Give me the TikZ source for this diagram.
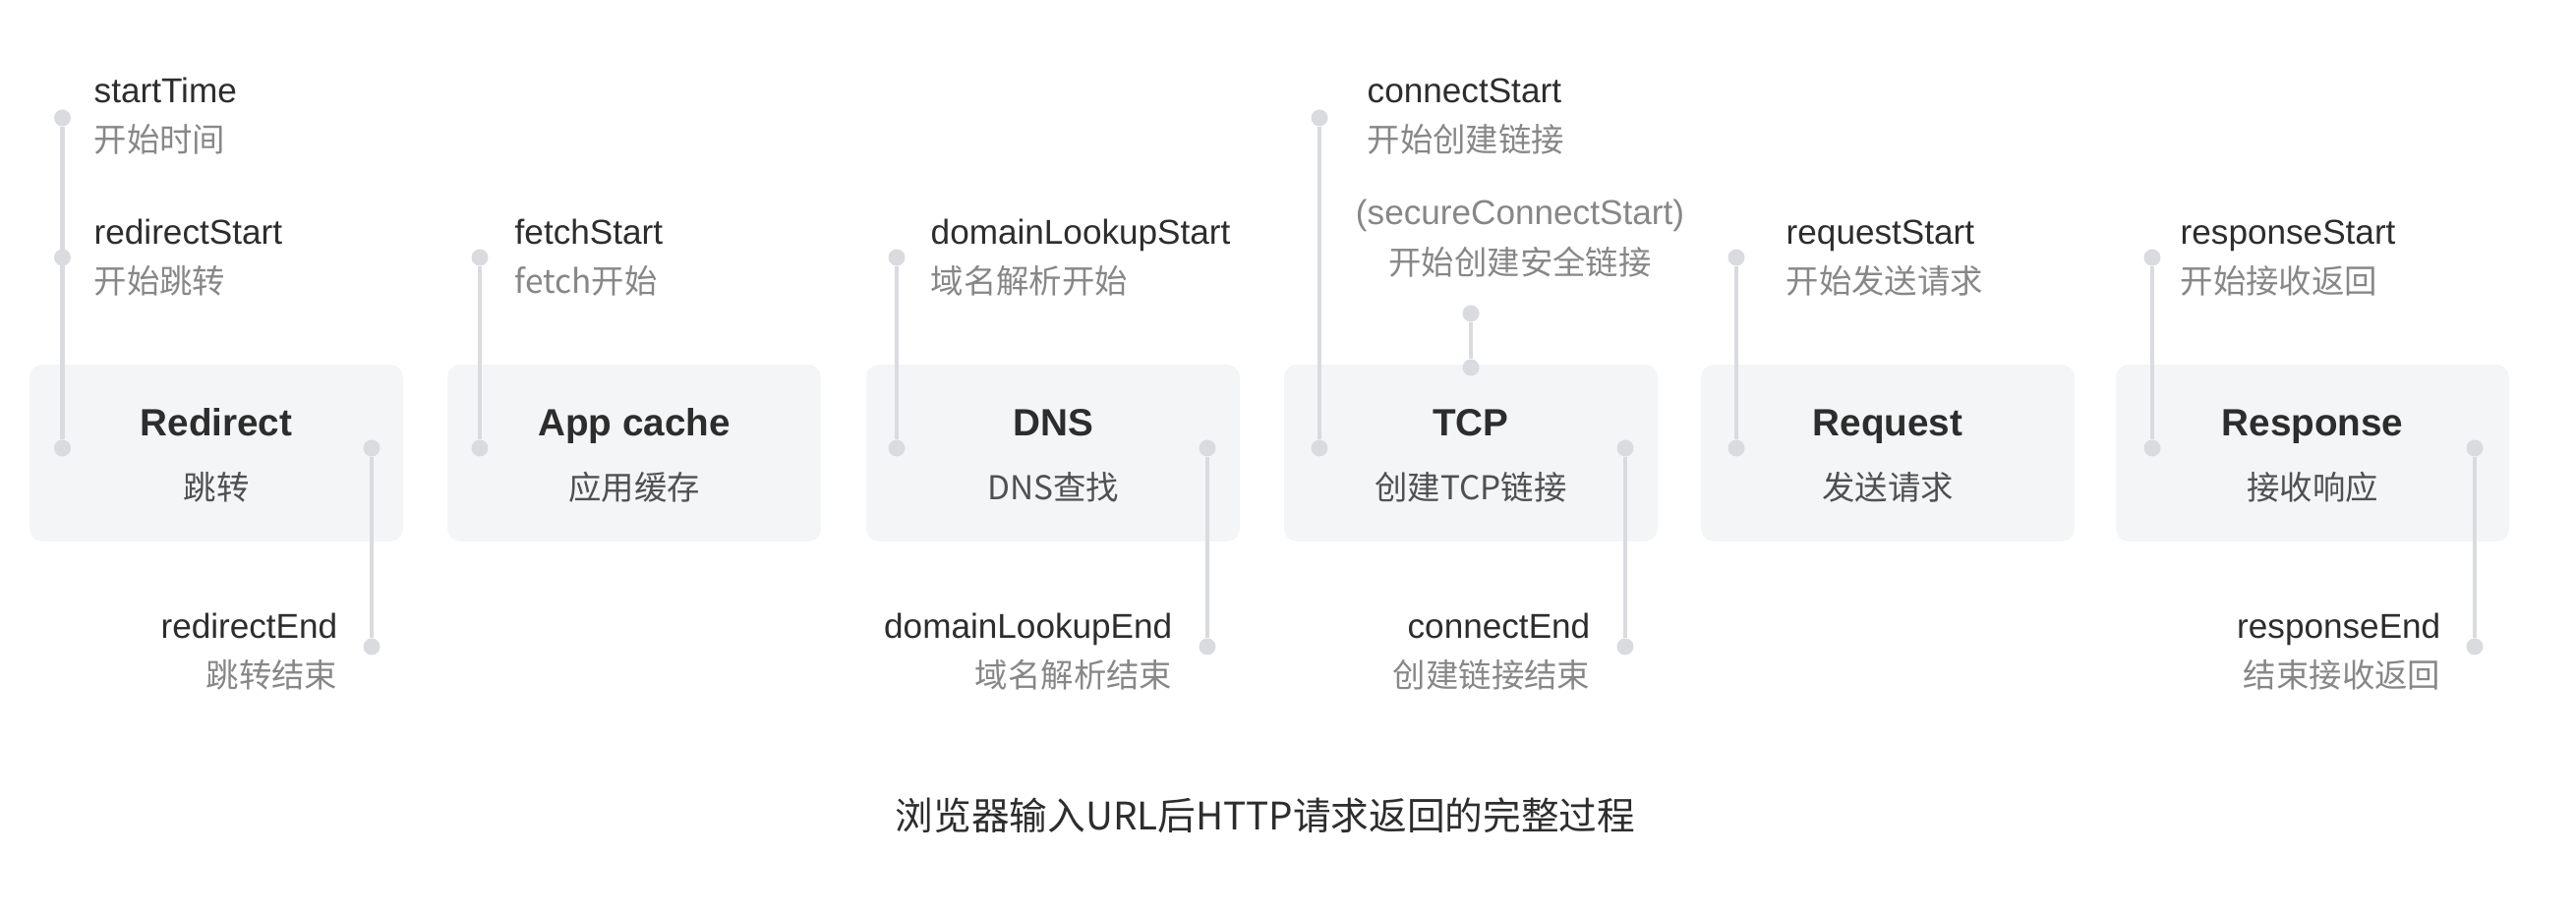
\documentclass[tikz,border=0pt]{standalone}
\usepackage{fontspec}
\setmainfont{Liberation Sans}
\newfontfamily\cjk{Noto Sans CJK SC}
\usetikzlibrary{positioning,calc}

\definecolor{boxgray}{RGB}{244,245,247}
\definecolor{linegray}{RGB}{218,219,222}
\definecolor{labeldark}{RGB}{45,45,45}
\definecolor{labellight}{RGB}{135,135,135}
\definecolor{subdark}{RGB}{80,80,80}

\tikzset{
	stage/.style={rectangle, rounded corners=0.13cm, fill=boxgray, minimum width=3.8cm, minimum height=1.8cm},
	stitle/.style={font=\bfseries\fontsize{11}{13}\selectfont, text=labeldark, inner sep=0pt, text height=0.75em, text depth=0.2em},
	ssub/.style={font=\cjk\fontsize{9.5}{12}\selectfont, text=subdark, inner sep=0pt},
	tick/.style={circle, fill=linegray, inner sep=0pt, minimum size=0.17cm},
	link/.style={draw=linegray, line width=1.2pt},
	evname/.style={font=\fontsize{10}{12}\selectfont, text=labeldark, inner sep=0pt, text height=0.75em, text depth=0.2em},
	evnote/.style={font=\cjk\fontsize{9.5}{12}\selectfont, text=labellight, inner sep=0pt},
}

\begin{document}
\begin{tikzpicture}
		\useasboundingbox (0,0) rectangle (26.2,9.28);
		
		% stages
		\node[stage] (redirect) at (2.20,4.67) {};
		\node[stage] (appcache) at (6.45,4.67) {};
		\node[stage] (dns) at (10.71,4.67) {};
		\node[stage] (tcp) at (14.96,4.67) {};
		\node[stage] (request) at (19.20,4.67) {};
		\node[stage, minimum width=4.0cm] (response) at (23.52,4.67) {};
		
		\node[stitle] at ([yshift=0.27cm]redirect.center) {Redirect};
		\node[ssub] at ([yshift=-0.35cm]redirect.center) {跳转};
		\node[stitle] at ([yshift=0.27cm]appcache.center) {App cache};
		\node[ssub] at ([yshift=-0.35cm]appcache.center) {应用缓存};
		\node[stitle] at ([yshift=0.27cm]dns.center) {DNS};
		\node[ssub] at ([yshift=-0.35cm]dns.center) {DNS查找};
		\node[stitle] at ([yshift=0.27cm]tcp.center) {TCP};
		\node[ssub] at ([yshift=-0.35cm]tcp.center) {创建TCP链接};
		\node[stitle] at ([yshift=0.27cm]request.center) {Request};
		\node[ssub] at ([yshift=-0.35cm]request.center) {发送请求};
		\node[stitle] at ([yshift=0.27cm]response.center) {Response};
		\node[ssub] at ([yshift=-0.35cm]response.center) {接收响应};
		
		% time points
		\node[tick] (startTime) at (0.635,8.08) {};
		\node[tick] (redirectStart) at (0.635,6.66) {};
		\node[tick] (redirectIn) at (0.635,4.72) {};
		\node[tick] (redirectOut) at (3.78,4.72) {};
		\node[tick] (redirectEnd) at (3.78,2.70) {};
		
		\node[tick] (fetchStart) at (4.88,6.66) {};
		\node[tick] (fetchIn) at (4.88,4.72) {};
		
		\node[tick] (dnsStart) at (9.12,6.66) {};
		\node[tick] (dnsIn) at (9.12,4.72) {};
		\node[tick] (dnsOut) at (12.28,4.72) {};
		\node[tick] (dnsEnd) at (12.28,2.70) {};
		
		\node[tick] (connectStart) at (13.42,8.08) {};
		\node[tick] (connectIn) at (13.42,4.72) {};
		\node[tick] (secureStart) at (14.96,6.09) {};
		\node[tick] (secureIn) at (14.96,5.54) {};
		\node[tick] (connectOut) at (16.53,4.72) {};
		\node[tick] (connectEnd) at (16.53,2.70) {};
		
		\node[tick] (requestStart) at (17.66,6.66) {};
		\node[tick] (requestIn) at (17.66,4.72) {};
		
		\node[tick] (responseStart) at (21.89,6.66) {};
		\node[tick] (responseIn) at (21.89,4.72) {};
		\node[tick] (responseOut) at (25.17,4.72) {};
		\node[tick] (responseEnd) at (25.17,2.70) {};
		
		\draw[link] (startTime) -- (redirectIn);
		\draw[link] (redirectOut) -- (redirectEnd);
		\draw[link] (fetchStart) -- (fetchIn);
		\draw[link] (dnsStart) -- (dnsIn);
		\draw[link] (dnsOut) -- (dnsEnd);
		\draw[link] (connectStart) -- (connectIn);
		\draw[link] (secureStart) -- (secureIn);
		\draw[link] (connectOut) -- (connectEnd);
		\draw[link] (requestStart) -- (requestIn);
		\draw[link] (responseStart) -- (responseIn);
		\draw[link] (responseOut) -- (responseEnd);
		
		% labels
		\node[evname, anchor=west] (startTimeL) at (0.95,8.33) {startTime};
		\node[evnote, anchor=west] (startTimeN) at (0.95,7.86) {开始时间};
		\node[evname, anchor=west] (redirectStartL) at (0.95,6.89) {redirectStart};
		\node[evnote, anchor=west] (redirectStartN) at (0.95,6.42) {开始跳转};
		\node[evname, anchor=east] (redirectEndL) at (3.44,2.88) {redirectEnd};
		\node[evnote, anchor=east] (redirectEndN) at (3.44,2.41) {跳转结束};
		
		\node[evname, anchor=west] (fetchStartL) at (5.23,6.89) {fetchStart};
		\node[evnote, anchor=west] (fetchStartN) at (5.23,6.42) {fetch开始};
		
		\node[evname, anchor=west] (dnsStartL) at (9.46,6.89) {domainLookupStart};
		\node[evnote, anchor=west] (dnsStartN) at (9.46,6.42) {域名解析开始};
		\node[evname, anchor=east] (dnsEndL) at (11.93,2.88) {domainLookupEnd};
		\node[evnote, anchor=east] (dnsEndN) at (11.93,2.41) {域名解析结束};
		
		\node[evname, anchor=west] (connectStartL) at (13.90,8.33) {connectStart};
		\node[evnote, anchor=west] (connectStartN) at (13.90,7.86) {开始创建链接};
		\node[evname, text=labellight] (secureStartL) at (15.46,7.09) {(secureConnectStart)};
		\node[evnote] (secureStartN) at (15.46,6.61) {开始创建安全链接};
		\node[evname, anchor=east] (connectEndL) at (16.18,2.88) {connectEnd};
		\node[evnote, anchor=east] (connectEndN) at (16.18,2.41) {创建链接结束};
		
		\node[evname, anchor=west] (requestStartL) at (18.16,6.89) {requestStart};
		\node[evnote, anchor=west] (requestStartN) at (18.16,6.42) {开始发送请求};
		
		\node[evname, anchor=west] (responseStartL) at (22.17,6.89) {responseStart};
		\node[evnote, anchor=west] (responseStartN) at (22.17,6.42) {开始接收返回};
		\node[evname, anchor=east] (responseEndL) at (24.83,2.88) {responseEnd};
		\node[evnote, anchor=east] (responseEndN) at (24.83,2.41) {结束接收返回};
		
		% caption
		\node[font=\cjk\fontsize{11}{13}\selectfont, text=labeldark] (caption) at (12.87,0.98) {浏览器输入URL后HTTP请求返回的完整过程};
	\end{tikzpicture}
\end{document}
